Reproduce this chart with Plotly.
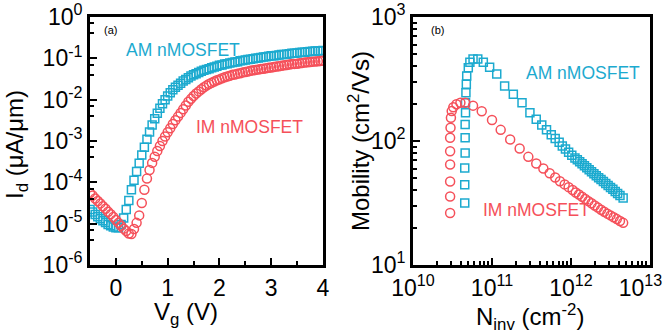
import plotly.graph_objects as go

# ---------------- Panel (a): Id vs Vg ----------------
vg = [-0.50, -0.45, -0.40, -0.35, -0.30, -0.25, -0.20, -0.15, -0.10, -0.05,
      0.00, 0.05, 0.10, 0.15, 0.20, 0.25, 0.30, 0.35, 0.40, 0.45,
      0.50, 0.55, 0.60, 0.65, 0.70, 0.75, 0.80, 0.85, 0.90, 0.95,
      1.00, 1.05, 1.10, 1.15, 1.20, 1.25, 1.30, 1.35, 1.40, 1.45,
      1.50, 1.55, 1.60, 1.65, 1.70, 1.75, 1.80, 1.85, 1.90, 1.95,
      2.00, 2.05, 2.10, 2.15, 2.20, 2.25, 2.30, 2.35, 2.40, 2.45,
      2.50, 2.55, 2.60, 2.65, 2.70, 2.75, 2.80, 2.85, 2.90, 2.95,
      3.00, 3.05, 3.10, 3.15, 3.20, 3.25, 3.30, 3.35, 3.40, 3.45,
      3.50, 3.55, 3.60, 3.65, 3.70, 3.75, 3.80, 3.85, 3.90, 3.95,
      4.00]

# log10 of Id (uA/um)
log_id_am = [-4.66, -4.72, -4.78, -4.83, -4.88, -4.93, -4.97, -5.02, -5.05, -5.08,
             -5.10, -5.10, -5.02, -4.86, -4.66, -4.44, -4.18, -3.95, -3.74, -3.54,
             -3.34, -3.15, -2.96, -2.78, -2.61, -2.46, -2.33, -2.21, -2.10, -2.00,
             -1.91, -1.83, -1.76, -1.70, -1.65, -1.60, -1.55, -1.51, -1.47, -1.43,
             -1.40, -1.37, -1.34, -1.31, -1.29, -1.27, -1.25, -1.23, -1.21, -1.19,
             -1.17, -1.16, -1.14, -1.13, -1.11, -1.10, -1.09, -1.08, -1.06, -1.05,
             -1.04, -1.03, -1.02, -1.01, -1.00, -0.99, -0.98, -0.97, -0.96, -0.95,
             -0.94, -0.935, -0.93, -0.92, -0.91, -0.905, -0.90, -0.89, -0.88, -0.875,
             -0.87, -0.86, -0.855, -0.85, -0.84, -0.835, -0.83, -0.825, -0.82, -0.815,
             -0.81]

log_id_im = [-4.26, -4.32, -4.39, -4.45, -4.51, -4.58, -4.64, -4.71, -4.77, -4.84,
             -4.91, -4.98, -5.05, -5.12, -5.18, -5.24, -5.25, -5.13, -4.98, -4.80,
             -4.50, -4.18, -3.91, -3.70, -3.53, -3.38, -3.24, -3.12, -3.00, -2.89,
             -2.79, -2.69, -2.59, -2.50, -2.41, -2.32, -2.23, -2.14, -2.05, -1.98,
             -1.91, -1.85, -1.80, -1.75, -1.70, -1.66, -1.62, -1.59, -1.56, -1.53,
             -1.51, -1.48, -1.46, -1.44, -1.42, -1.40, -1.39, -1.37, -1.36, -1.34,
             -1.33, -1.32, -1.30, -1.29, -1.28, -1.27, -1.26, -1.25, -1.24, -1.23,
             -1.22, -1.21, -1.20, -1.19, -1.18, -1.17, -1.16, -1.15, -1.14, -1.135,
             -1.13, -1.12, -1.11, -1.10, -1.095, -1.09, -1.08, -1.075, -1.07, -1.065,
             -1.06]

# ---------------- Panel (b): mobility vs Ninv ----------------
# log10(Ninv [cm^-2]) and log10(mobility [cm^2/Vs])
log_n_am = [10.655, 10.655, 10.655, 10.66, 10.66, 10.66, 10.665, 10.665, 10.67, 10.675,
            10.68, 10.70, 10.72, 10.76, 10.82, 10.89, 10.97, 11.06, 11.16, 11.27,
            11.38, 11.48, 11.56, 11.63, 11.69, 11.75, 11.80, 11.85, 11.89, 11.93,
            11.97, 12.01, 12.05, 12.08, 12.11, 12.14, 12.17, 12.20, 12.23, 12.26,
            12.29, 12.32, 12.35, 12.38, 12.41, 12.44, 12.47, 12.50, 12.53, 12.56,
            12.59, 12.62, 12.66]
log_mu_am = [1.50, 1.648, 1.783, 1.904, 2.026, 2.134, 2.228, 2.309, 2.39, 2.457,
             2.525, 2.59, 2.635, 2.662, 2.662, 2.635, 2.595, 2.54, 2.444, 2.377,
             2.309, 2.228, 2.176, 2.13, 2.09, 2.05, 2.02, 1.99, 1.96, 1.935,
             1.91, 1.885, 1.863, 1.848, 1.832, 1.816, 1.80, 1.784, 1.768, 1.752,
             1.736, 1.72, 1.704, 1.689, 1.673, 1.657, 1.641, 1.625, 1.61, 1.593,
             1.577, 1.56, 1.54]

log_n_im = [10.47, 10.47, 10.47, 10.47, 10.47, 10.47, 10.475, 10.48, 10.49, 10.51,
            10.55, 10.60, 10.66, 10.76, 10.87, 11.00, 11.11, 11.23, 11.35, 11.46,
            11.56, 11.65, 11.73, 11.80, 11.86, 11.92, 11.97, 12.02, 12.06, 12.10,
            12.14, 12.18, 12.22, 12.26, 12.30, 12.34, 12.38, 12.42, 12.46, 12.50,
            12.54, 12.58, 12.62, 12.66]
log_mu_im = [1.419, 1.553, 1.674, 1.81, 1.917, 2.026, 2.107, 2.188, 2.241, 2.272,
             2.296, 2.309, 2.309, 2.285, 2.24, 2.17, 2.09, 2.012, 1.94, 1.872,
             1.818, 1.778, 1.74, 1.705, 1.675, 1.65, 1.628, 1.605, 1.585, 1.568,
             1.55, 1.533, 1.515, 1.498, 1.48, 1.463, 1.445, 1.43, 1.414, 1.40,
             1.385, 1.37, 1.355, 1.34]

# tick decades
dec_a_y = [-6, -5, -4, -3, -2, -1, 0]
dec_b_x = [10, 11, 12, 13]
dec_b_y = [1, 2, 3]
vg_ticks = [0, 1, 2, 3, 4]

id_am = [10 ** v for v in log_id_am]
id_im = [10 ** v for v in log_id_im]
n_am = [10 ** v for v in log_n_am]
mu_am = [10 ** v for v in log_mu_am]
n_im = [10 ** v for v in log_n_im]
mu_im = [10 ** v for v in log_mu_im]


def pw(decs):
    return [10.0 ** d for d in decs], ["10<sup>%d</sup>" % d for d in decs]


CYAN = "#1CAACF"
RED = "#F5505A"
FONT = "Arial, Liberation Sans, sans-serif"
W, H = 669, 330
TICK_SIZE = 23

fig = go.Figure()
fig.add_trace(go.Scatter(x=vg, y=id_am, mode="markers", xaxis="x", yaxis="y",
                         marker=dict(symbol="square-open", size=8, color=CYAN,
                                     line=dict(width=1.5, color=CYAN))))
fig.add_trace(go.Scatter(x=vg, y=id_im, mode="markers", xaxis="x", yaxis="y",
                         marker=dict(symbol="circle-open", size=9, color=RED,
                                     line=dict(width=1.5, color=RED))))
fig.add_trace(go.Scatter(x=n_am, y=mu_am, mode="markers", xaxis="x2", yaxis="y2",
                         marker=dict(symbol="square-open", size=8, color=CYAN,
                                     line=dict(width=1.5, color=CYAN))))
fig.add_trace(go.Scatter(x=n_im, y=mu_im, mode="markers", xaxis="x2", yaxis="y2",
                         marker=dict(symbol="circle-open", size=9, color=RED,
                                     line=dict(width=1.5, color=RED))))

common = dict(showline=True, linewidth=2.8, linecolor="black", mirror=True,
              showgrid=False, zeroline=False, ticks="inside", ticklen=7,
              tickwidth=2, tickcolor="black", automargin=False,
              ticklabeloverflow="allow",
              tickfont=dict(family=FONT, size=TICK_SIZE, color="black"))

ydom = [1 - 265 / H, 1 - 17 / H]
minor_a = []
for e in range(-6, 0):
    minor_a += [4 * 10.0 ** e, 7 * 10.0 ** e]

tv_ay, tt_ay = pw(dec_a_y)
tv_bx, tt_bx = pw(dec_b_x)
tv_by, tt_by = pw(dec_b_y)
# last x label of panel (b) sits at the page edge: pad it so it stays inside
tt_bx[-1] = tt_bx[-1] + "\u00a0\u00a0\u00a0"

fig.update_layout(
    width=W, height=H,
    margin=dict(l=0, r=0, t=0, b=0, pad=0, autoexpand=False),
    paper_bgcolor="white", plot_bgcolor="white", showlegend=False,
    font=dict(family=FONT, color="black"),
    xaxis=dict(domain=[90 / W, 323 / W], range=[-0.5, 4], anchor="y",
               tickmode="array", tickvals=vg_ticks,
               ticktext=[str(v) for v in vg_ticks],
               minor=dict(ticks="inside", tickmode="array",
                          tickvals=[0.5, 1.5, 2.5, 3.5], ticklen=4,
                          tickwidth=1.5, tickcolor="black"),
               **common),
    yaxis=dict(domain=ydom, type="log", range=[-6, 0], anchor="x",
               tickmode="array", tickvals=tv_ay, ticktext=tt_ay,
               minor=dict(ticks="inside", tickmode="array", tickvals=minor_a,
                          ticklen=4, tickwidth=1.5, tickcolor="black"),
               **common),
    xaxis2=dict(domain=[413 / W, 650 / W], type="log", range=[10, 13],
                anchor="y2", tickmode="array", tickvals=tv_bx, ticktext=tt_bx,
                minor=dict(ticks="inside", dtick="D1", ticklen=4,
                           tickwidth=1.5, tickcolor="black"),
                **common),
    yaxis2=dict(domain=ydom, type="log", range=[1, 3], anchor="x2",
                tickmode="array", tickvals=tv_by, ticktext=tt_by,
                minor=dict(ticks="inside", dtick="D1", ticklen=4,
                           tickwidth=1.5, tickcolor="black"),
                **common),
)


def ann(text, px, py, size, color="black", angle=0):
    fig.add_annotation(text=text, x=px / W, y=1 - py / H, xref="paper",
                       yref="paper", showarrow=False, xanchor="center",
                       yanchor="middle", textangle=angle,
                       font=dict(family=FONT, size=size, color=color))


ann("(a)", 110, 30, 11)
ann("AM nMOSFET", 183, 50, 17.5, CYAN)
ann("IM nMOSFET", 249, 127, 17.5, RED)
ann("(b)", 437, 30, 11)
ann("AM nMOSFET", 583, 73, 17.5, CYAN)
ann("IM nMOSFET", 536, 210, 17.5, RED)

ann("I<sub>d</sub> (μA/μm)", 16, 145, 24, angle=-90)
ann("V<sub>g</sub> (V)", 186, 313, 24)
ann("Mobility (cm<sup>2</sup>/Vs)", 359, 141, 24, angle=-90)
ann("N<sub>inv</sub> (cm<sup>-2</sup>)", 530, 317, 24)

fig.write_html("out.html")
